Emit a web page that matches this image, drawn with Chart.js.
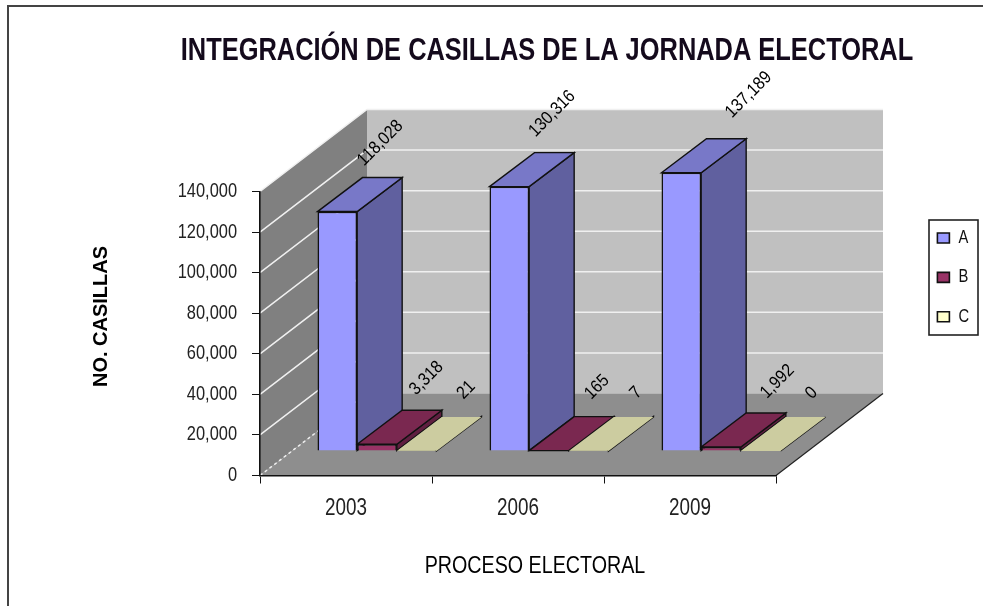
<!DOCTYPE html>
<html><head><meta charset="utf-8">
<style>html,body{margin:0;padding:0;background:#fff}canvas{display:block;filter:blur(0.45px)}</style>
<script src="https://cdn.jsdelivr.net/npm/chart.js@4"></script>
</head><body>
<canvas id="c" width="983" height="606"></canvas>
<script>
const categories = ['2003', '2006', '2009'];
const seriesNames = ['A', 'B', 'C'];
const seriesA = [118028, 130316, 137189];
const seriesB = [3318, 165, 1992];
const seriesC = [21, 7, 0];
const yTickValues = [0, 20000, 40000, 60000, 80000, 100000, 120000, 140000];
const chartTitle = 'INTEGRACIÓN DE CASILLAS DE LA JORNADA ELECTORAL';
const xAxisTitle = 'PROCESO ELECTORAL';
const yAxisTitle = 'NO. CASILLAS';

const FONT = '"Liberation Sans",Arial,sans-serif';
const WALL_DX = 107, WALL_DY = 82, INSET_DX = 31, INSET_DY = 24.5, BAR_DX = 45, BAR_DY = 34;
const frontColors = ['#9999FF', '#993366', '#FFFFCC'];
const sideColors = ['#60609F', '#5F1F40', '#9F9F7F'];
const topColors = ['#7878C8', '#7A2850', '#CCCCA0'];
const labelNudge = [
  [[20.5, -51.5], [20.5, -56], [45, -61]],
  [[27, -49], [25.5, -46.5], [34, -48.5]],
  [[27, -44], [25, -41], [28.5, -41]]
];
const fmt = v => Number(v).toLocaleString('en-US');

const canvas = document.getElementById('c');
const ctx2d = canvas.getContext('2d');
// The reference is a horizontally compressed picture: narrow the glyphs along x.
const rawFillText = ctx2d.fillText.bind(ctx2d);
ctx2d.fillText = function (text, x, y) {
  const m = ctx2d.getTransform();
  const f = Math.abs(m.a) < 0.01 ? 1 : (Math.abs(m.b) > 0.01 ? 0.88 : 0.82);
  ctx2d.save();
  ctx2d.translate(x, y);
  ctx2d.scale(f, 1);
  rawFillText(text, 0, 0);
  ctx2d.restore();
};

function poly(ctx, pts, fill, stroke, lw) {
  ctx.beginPath();
  pts.forEach((p, i) => i ? ctx.lineTo(p[0], p[1]) : ctx.moveTo(p[0], p[1]));
  ctx.closePath();
  if (fill) { ctx.fillStyle = fill; ctx.fill(); }
  if (stroke) { ctx.strokeStyle = stroke; ctx.lineWidth = lw || 1; ctx.stroke(); }
}

const scene3d = {
  id: 'scene3d',
  afterLayout(chart) {
    const t = chart.titleBlock;
    t.left = 111; t.right = 983;
    const l = chart.legend;
    l.left = 916; l.top = 207.6; l.right = 978; l.bottom = 400;
    const wrap = (s, dx, dy) => {
      if (s._wrapped) return;
      const orig = s.drawTitle;
      s.drawTitle = function () {
        const c = this.ctx; c.save(); c.translate(dx, dy); orig.call(this); c.restore();
      };
      s._wrapped = true;
    };
    wrap(chart.scales.x, 17, -7);
    wrap(chart.scales.y, 2, -17);
  },
  beforeDraw(chart) {
    const { ctx, chartArea: a, scales: { y } } = chart;
    ctx.save();
    ctx.fillStyle = '#fff';
    ctx.fillRect(0, 0, chart.width, chart.height);
    ctx.strokeStyle = '#444'; ctx.lineWidth = 2;
    ctx.beginPath(); ctx.moveTo(8, 606); ctx.lineTo(8, 6); ctx.lineTo(983, 6); ctx.stroke();
    const L = a.left, R = a.right, T = a.top, B = a.bottom;
    poly(ctx, [[L + WALL_DX, T - WALL_DY], [R + WALL_DX, T - WALL_DY], [R + WALL_DX, B - WALL_DY], [L + WALL_DX, B - WALL_DY]], '#C0C0C0');
    poly(ctx, [[L, T], [L + WALL_DX, T - WALL_DY], [L + WALL_DX, B - WALL_DY], [L, B]], '#808080');
    poly(ctx, [[L, B], [R, B], [R + WALL_DX, B - WALL_DY], [L + WALL_DX, B - WALL_DY]], '#8E8E8E');
    ctx.strokeStyle = '#F0F0F0'; ctx.lineWidth = 1.5;
    yTickValues.forEach(v => {
      const py = y.getPixelForValue(v);
      ctx.setLineDash(v === 0 ? [3, 3] : []);
      ctx.beginPath(); ctx.moveTo(L, py); ctx.lineTo(L + WALL_DX, py - WALL_DY);
      if (v > 0) ctx.lineTo(R + WALL_DX, py - WALL_DY);
      ctx.stroke();
    });
    ctx.setLineDash([]);
    ctx.strokeStyle = '#222'; ctx.lineWidth = 1.2;
    ctx.beginPath(); ctx.moveTo(R, B); ctx.lineTo(R + WALL_DX, B - WALL_DY); ctx.stroke();
    ctx.restore();
  },
  beforeDatasetsDraw(chart) {
    const { ctx } = chart;
    ctx.save();
    ctx.translate(INSET_DX, -INSET_DY);
    chart.data.datasets.forEach((ds, di) => {
      chart.getDatasetMeta(di).data.forEach(b => {
        const x0 = b.x - b.width / 2, x1 = b.x + b.width / 2, yt = b.y, yb = b.base;
        poly(ctx, [[x1, yb], [x1 + BAR_DX, yb - BAR_DY], [x1 + BAR_DX, yt - BAR_DY], [x1, yt]], sideColors[di], '#111', 1.4);
        poly(ctx, [[x0, yt], [x1, yt], [x1 + BAR_DX, yt - BAR_DY], [x0 + BAR_DX, yt - BAR_DY]], topColors[di], di === 2 ? null : '#111', 1.4);
      });
    });
  },
  afterDatasetsDraw(chart) {
    const { ctx } = chart;
    ctx.restore();
    ctx.save();
    ctx.fillStyle = '#000';
    ctx.font = '18px ' + FONT;
    ctx.textAlign = 'center'; ctx.textBaseline = 'middle';
    chart.data.datasets.forEach((ds, di) => {
      chart.getDatasetMeta(di).data.forEach((b, i) => {
        const cx = b.x + INSET_DX + BAR_DX / 2 + labelNudge[di][i][0];
        const cy = b.y - INSET_DY - BAR_DY / 2 + labelNudge[di][i][1];
        ctx.save(); ctx.translate(cx, cy); ctx.rotate(-Math.PI / 4);
        ctx.fillText(fmt(ds.data[i]), 0, 0);
        ctx.restore();
      });
    });
    ctx.restore();
  },
  afterDraw(chart) {
    const { ctx } = chart;
    ctx.save();
    ctx.strokeStyle = '#222'; ctx.lineWidth = 1.6;
    ctx.strokeRect(929, 220, 49, 115);
    ctx.restore();
  }
};

new Chart(canvas, {
  type: 'bar',
  data: {
    labels: categories,
    datasets: [seriesA, seriesB, seriesC].map((data, i) => ({
      label: seriesNames[i],
      data,
      backgroundColor: frontColors[i],
      borderColor: '#111',
      borderWidth: 1.6,
      clip: false
    }))
  },
  plugins: [scene3d],
  options: {
    responsive: false,
    animation: false,
    categoryPercentage: 0.692,
    barPercentage: 1,
    layout: { padding: { left: 0, right: 207, top: 0, bottom: 0 } },
    plugins: {
      tooltip: { enabled: false },
      title: {
        display: true, text: chartTitle, color: '#140a1c',
        font: { family: FONT, size: 31, weight: 'bold', lineHeight: 1.2 },
        padding: { top: 32.4, bottom: 121.9 }
      },
      legend: {
        display: true, position: 'chartArea', align: 'start',
        labels: {
          color: '#111', boxWidth: 12, boxHeight: 10, padding: 21.4,
          font: { family: FONT, size: 18, lineHeight: 1.2 }
        }
      }
    },
    scales: {
      x: {
        afterFit(s) { s.height = 130.5; },
        border: { display: true, color: '#111', width: 1.6 },
        grid: { drawOnChartArea: false, drawTicks: true, tickLength: 8, color: '#111' },
        ticks: { color: '#222', padding: 11, maxRotation: 0, font: { family: FONT, size: 23 } },
        title: {
          display: true, text: xAxisTitle, color: '#000',
          font: { family: FONT, size: 24 },
          padding: { top: 0, bottom: 18 }
        }
      },
      y: {
        min: 0, max: 140000,
        afterFit(s) { s.width = 260; },
        afterBuildTicks(s) { s.ticks = yTickValues.map(value => ({ value })); },
        border: { display: true, color: '#111', width: 1.6 },
        grid: { drawOnChartArea: false, drawTicks: true, tickLength: 8, color: '#111' },
        ticks: { color: '#222', padding: 15, font: { family: FONT, size: 20 }, callback: v => fmt(v) },
        title: {
          display: true, text: yAxisTitle, color: '#000',
          font: { family: FONT, size: 20, weight: 'bold' },
          padding: { top: 87, bottom: 0 }
        }
      }
    }
  }
});
</script>
</body></html>
